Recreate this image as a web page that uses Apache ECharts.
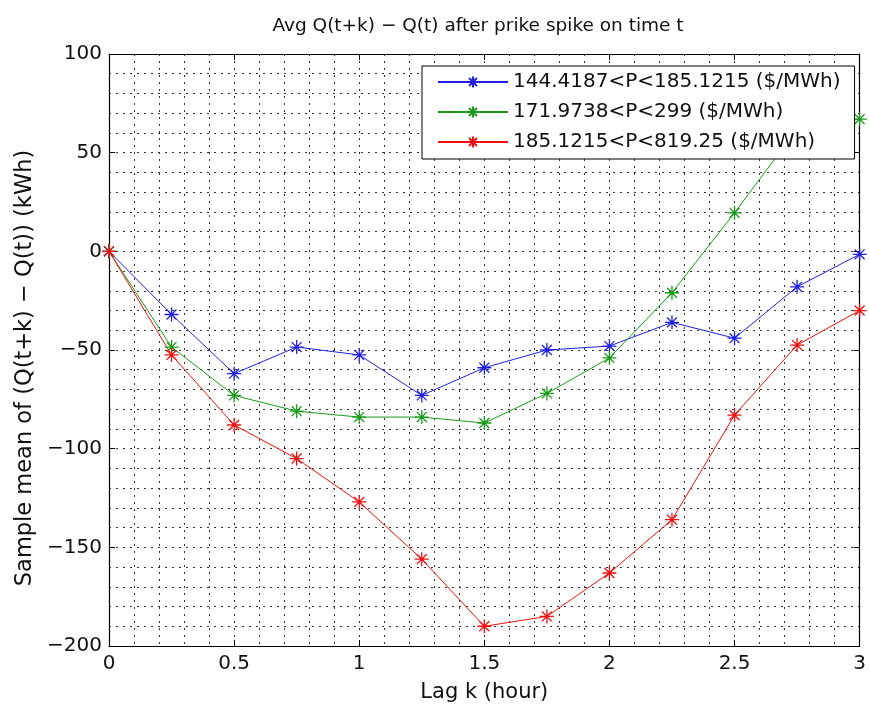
<!DOCTYPE html>
<html><head><meta charset="utf-8">
<script src="https://cdn.jsdelivr.net/npm/echarts@6/dist/echarts.min.js"></script>
<style>html,body{margin:0;padding:0;background:#fff}#c{width:869px;height:708px}</style>
</head><body><div id="c"></div>
<script>
const lags = [0, 0.25, 0.5, 0.75, 1, 1.25, 1.5, 1.75, 2, 2.25, 2.5, 2.75, 3];
const blueName = '144.4187<P<185.1215 ($/MWh)';
const greenName = '171.9738<P<299 ($/MWh)';
const redName = '185.1215<P<819.25 ($/MWh)';
const blueVals = [0, -32, -62, -48.5, -52.5, -73, -59, -50, -48, -36, -44, -18, -1.5];
const greenVals = [0, -48.5, -73, -81, -84, -84, -87, -72, -54, -21, 19.5, 62, 67];
const redVals = [0, -52.5, -88, -105, -127, -156, -190, -185, -163, -136, -83, -47.5, -30];
const xTicks = [0, 0.5, 1, 1.5, 2, 2.5, 3];
const yTicks = [-200, -150, -100, -50, 0, 50, 100];

const FONT = 'DejaVu Sans, sans-serif';
const star = 'path://M0,-10 L0,10 M-10,0 L10,0 M-7.07,-7.07 L7.07,7.07 M-7.07,7.07 L7.07,-7.07';
const gridDot = {type: [2, 5], color: '#333', width: 1};

function mk(name, vals, col) {
  return {
    name, type: 'line', data: lags.map((x, i) => [x, vals[i]]),
    symbol: star, symbolSize: 14,
    lineStyle: {color: col, width: 1},
    itemStyle: {color: 'rgba(0,0,0,0)', borderColor: col, borderWidth: 1.3},
    color: col,
    emphasis: {disabled: true}, animation: false, z: 3
  };
}
const chart = echarts.init(document.getElementById('c'));
const axBase = {
  min: 0, max: 3, interval: 0.5, type: 'value',
  axisLine: {show: true, onZero: false, lineStyle: {color: '#000', width: 1.2}},
  axisTick: {show: true, inside: true, length: 6, lineStyle: {color: '#000'}},
};
chart.setOption({
  animation: false,
  title: {text: 'Avg Q(t+k) \u2212 Q(t) after prike spike on time t', left: 473, textAlign: 'center', top: 12,
    textStyle: {fontFamily: FONT, fontSize: 18.5, fontWeight: 'normal', color: '#111'}},
  grid: {left: 109, right: 7, top: 54, bottom: 58},
  legend: {
    orient: 'vertical', left: 422, top: 66, backgroundColor: '#fff', borderColor: '#000', borderWidth: 1,
    padding: [6, 14, 7, 15], itemGap: 10, itemWidth: 70, itemHeight: 14, z: 10,
    textStyle: {fontFamily: FONT, fontSize: 20, color: '#111'},
    data: [blueName, greenName, redName]
  },
  xAxis: [
    Object.assign({}, axBase, {
      position: 'bottom',
      name: 'Lag k (hour)', nameLocation: 'middle', nameGap: 36,
      nameTextStyle: {fontFamily: FONT, fontSize: 21, color: '#111'},
      axisLabel: {fontFamily: FONT, fontSize: 20, color: '#111', margin: 8,
        formatter: v => xTicks.includes(v) ? String(v) : ''},
      splitLine: {show: true, lineStyle: gridDot},
      minorTick: {show: false, splitNumber: 5},
      minorSplitLine: {show: true, lineStyle: gridDot}
    }),
    Object.assign({}, axBase, {position: 'top', axisLabel: {show: false}, splitLine: {show: false}})
  ],
  yAxis: [
    {
      type: 'value', min: -200, max: 100, interval: 50, position: 'left',
      axisLine: {show: true, onZero: false, lineStyle: {color: '#000', width: 1.2}},
      axisTick: {show: true, inside: true, length: 6, lineStyle: {color: '#000'}},
      name: 'Sample mean of (Q(t+k) \u2212 Q(t)) (kWh)', nameLocation: 'middle', nameGap: 66,
      nameTextStyle: {fontFamily: FONT, fontSize: 22.5, color: '#111', padding: [0, 36, 0, 0]},
      axisLabel: {fontFamily: FONT, fontSize: 20, color: '#111', margin: 7,
        formatter: v => yTicks.includes(v) ? String(v).replace('-', '\u2212') : ''},
      splitLine: {show: true, lineStyle: gridDot},
      minorTick: {show: false, splitNumber: 5},
      minorSplitLine: {show: true, lineStyle: gridDot}
    },
    {
      type: 'value', min: -200, max: 100, interval: 50, position: 'right',
      axisLine: {show: true, onZero: false, lineStyle: {color: '#000', width: 1.2}},
      axisTick: {show: true, inside: true, length: 6, lineStyle: {color: '#000'}},
      axisLabel: {show: false}, splitLine: {show: false}
    }
  ],
  series: [mk(blueName, blueVals, '#2020e0'), mk(greenName, greenVals, '#1a9a1a'), mk(redName, redVals, '#ee1010')]
});
</script></body></html>
